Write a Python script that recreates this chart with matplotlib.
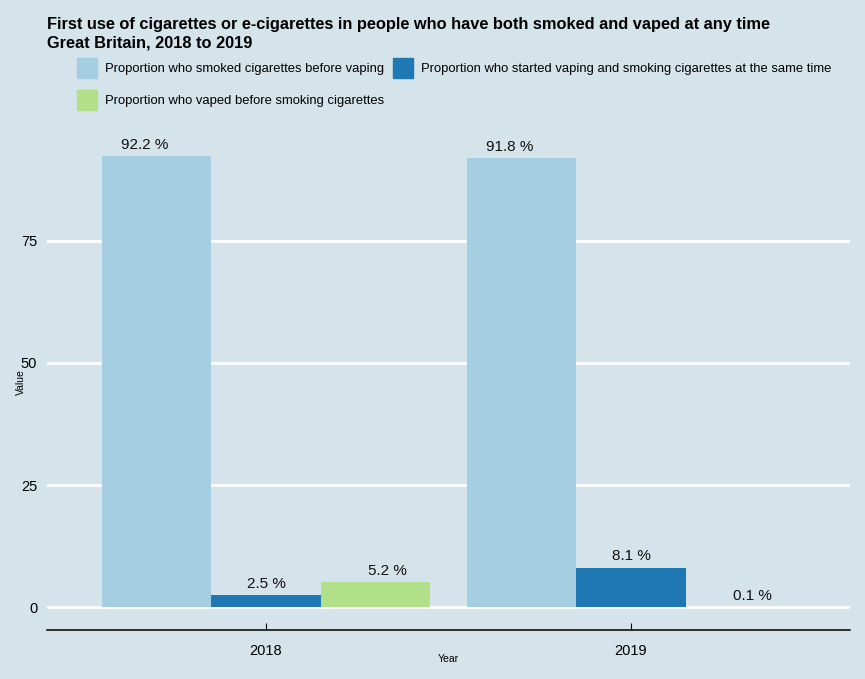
import matplotlib
matplotlib.use("Agg")
import matplotlib.pyplot as plt
from matplotlib.patches import Patch
import numpy as np

plt.rcParams['font.family'] = ['Liberation Sans', 'DejaVu Sans']

# ----- données -----
years = ["2018", "2019"]
series = [
    "Proportion who smoked cigarettes before vaping",
    "Proportion who started vaping and smoking cigarettes at the same time",
    "Proportion who vaped before smoking cigarettes",
]
smoked_first = [92.2, 91.8]
same_time = [2.5, 8.1]
vaped_first = [5.2, 0.1]
colors = ["#A6CEE3", "#1F78B4", "#B2DF8A"]

bg = "#D5E3EA"
values = [smoked_first, same_time, vaped_first]

fig = plt.figure(figsize=(8.65, 6.79), dpi=100, facecolor=bg)
ax = fig.add_axes([47/865, 1 - 630/679, 803/865, 498/679])
ax.set_facecolor(bg)

x = np.arange(1, len(years) + 1)
w = 0.3
for i, vals in enumerate(values):
    off = (i - 1) * w
    ax.bar(x + off, vals, width=w, color=colors[i], zorder=3)
    # étiquettes décalées (dodge largeur 1)
    for xi, v in zip(x, vals):
        ax.text(xi + (i - 1) / 3, v + 0.9, f"{v} %", ha="center", va="bottom",
                fontsize=11, color="#111111", zorder=4)

ax.set_xlim(0.4, 2.6)
ax.set_ylim(-4.61, 97.2)
ax.set_yticks([0, 25, 50, 75])
ax.set_xticks(x)
ax.set_xticklabels(years)
ax.yaxis.grid(True, color="white", linewidth=2, zorder=1)
ax.set_axisbelow(True)

for s in ["top", "right", "left"]:
    ax.spines[s].set_visible(False)
ax.spines["bottom"].set_color("black")
ax.spines["bottom"].set_linewidth(1.1)
ax.tick_params(axis="y", length=0, labelsize=10.5, pad=7)
ax.tick_params(axis="x", direction="in", length=5, labelsize=10.5, pad=10)

ax.set_xlabel("Year", fontsize=7.5)
ax.set_ylabel("Value", fontsize=7.5)
ax.xaxis.set_label_coords(0.5, -0.058)
ax.yaxis.set_label_coords(-0.032, 0.498)
ax.xaxis.label.set_va("center")
ax.yaxis.label.set_va("center")

fig.text(47/865, 1 - 17/679, "First use of cigarettes or e-cigarettes in people who have both smoked and vaped at any time\nGreat Britain, 2018 to 2019",
         fontsize=11.8, fontweight="bold", ha="left", va="top", linespacing=1.25)

handles = [Patch(color=c) for c in colors]
order = [0, 2, 1]
fig.legend([handles[k] for k in order], [series[k] for k in order],
           loc="upper left", bbox_to_anchor=(77/865, 1 - 58/679), ncol=2,
           frameon=False, fontsize=9.35, handlelength=1.52, handleheight=1.97,
           handletextpad=0.6, columnspacing=0.74, labelspacing=0.95, borderpad=0,
           borderaxespad=0)

fig.savefig("out.png", dpi=100, facecolor=bg)
